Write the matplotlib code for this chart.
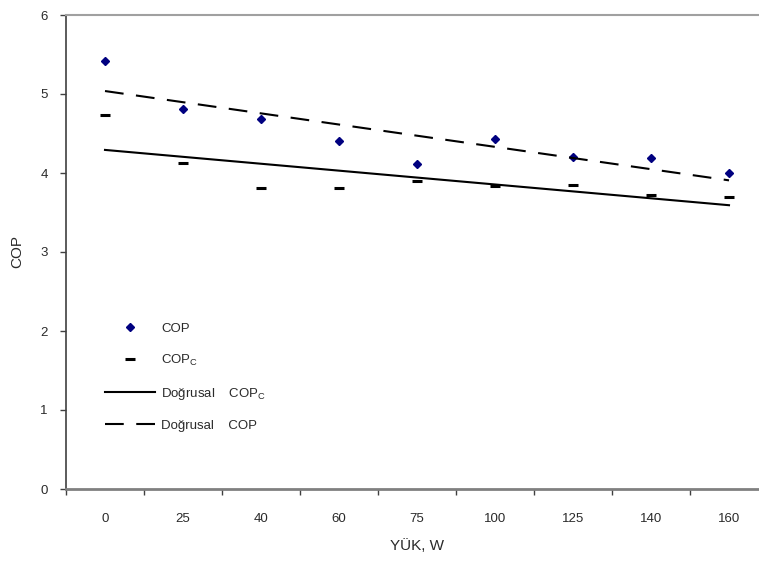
import matplotlib
matplotlib.use("Agg")
import matplotlib.pyplot as plt
import numpy as np

plt.rcParams["font.family"] = ["Liberation Sans", "DejaVu Sans"]

loads = ["0", "25", "40", "60", "75", "100", "125", "140", "160"]
cop = [5.42, 4.81, 4.68, 4.41, 4.11, 4.43, 4.20, 4.19, 4.00]
cop_c = [4.73, 4.13, 3.81, 3.81, 3.90, 3.83, 3.85, 3.72, 3.70]

TXT = "#2a2a2a"

fig = plt.figure(figsize=(7.59, 5.65), dpi=100)
ax = fig.add_axes([66 / 759, 1 - 489 / 565, 702 / 759, 474 / 565])

x = np.arange(len(loads))
# Excel-style linear trendlines fitted over category index
fit_c = np.polyval(np.polyfit(x, cop_c, 1), x)
fit = np.polyval(np.polyfit(x, cop, 1), x)

ax.plot(x, cop, ls="none", marker="D", ms=4.5, color="#000080", label="COP")
ax.plot(x, cop_c, ls="none", marker="_", ms=7.5, mew=2.2, color="black", label="COP$_\\mathregular{C}$")
ax.plot(x, fit_c, color="black", lw=1.5, label="Doğrusal    COP$_\\mathregular{C}$")
ax.plot(x, fit, color="black", lw=1.5, dashes=(9, 6), label="Doğrusal    COP")

ax.set_xlim(-0.5, len(loads) - 0.5)
ax.set_ylim(0, 6)
ax.set_yticks(range(7))
ax.set_xticks(x)
ax.set_xticklabels(loads)
ax.set_xticks(np.arange(-0.5, len(loads), 1), minor=True)
ax.tick_params(axis="x", which="major", length=0, pad=17, labelsize=9.5, labelcolor=TXT)
ax.tick_params(axis="x", which="minor", length=4, width=1, color="#404040")
ax.tick_params(axis="y", length=4, width=1, color="#404040", pad=9, labelsize=9.5, labelcolor=TXT)

ax.spines["right"].set_visible(False)
ax.spines["top"].set_color("#a0a0a0")
ax.spines["top"].set_linewidth(1.5)
ax.spines["left"].set_color("#404040")
ax.spines["left"].set_linewidth(1.2)
ax.spines["bottom"].set_color("#808080")
ax.spines["bottom"].set_linewidth(2)

ax.set_xlabel("YÜK, W", fontsize=11, color=TXT, labelpad=10)
ax.set_ylabel("COP", fontsize=11, color=TXT, labelpad=12)

ax.legend(loc="upper left", bbox_to_anchor=(98 / 759, 1 - 316 / 565),
          bbox_transform=fig.transFigure, frameon=False, fontsize=9.5,
          handlelength=3.8, handletextpad=0.5, labelspacing=1.35, borderpad=0,
          labelcolor=TXT)

fig.savefig("out.png", dpi=100)
